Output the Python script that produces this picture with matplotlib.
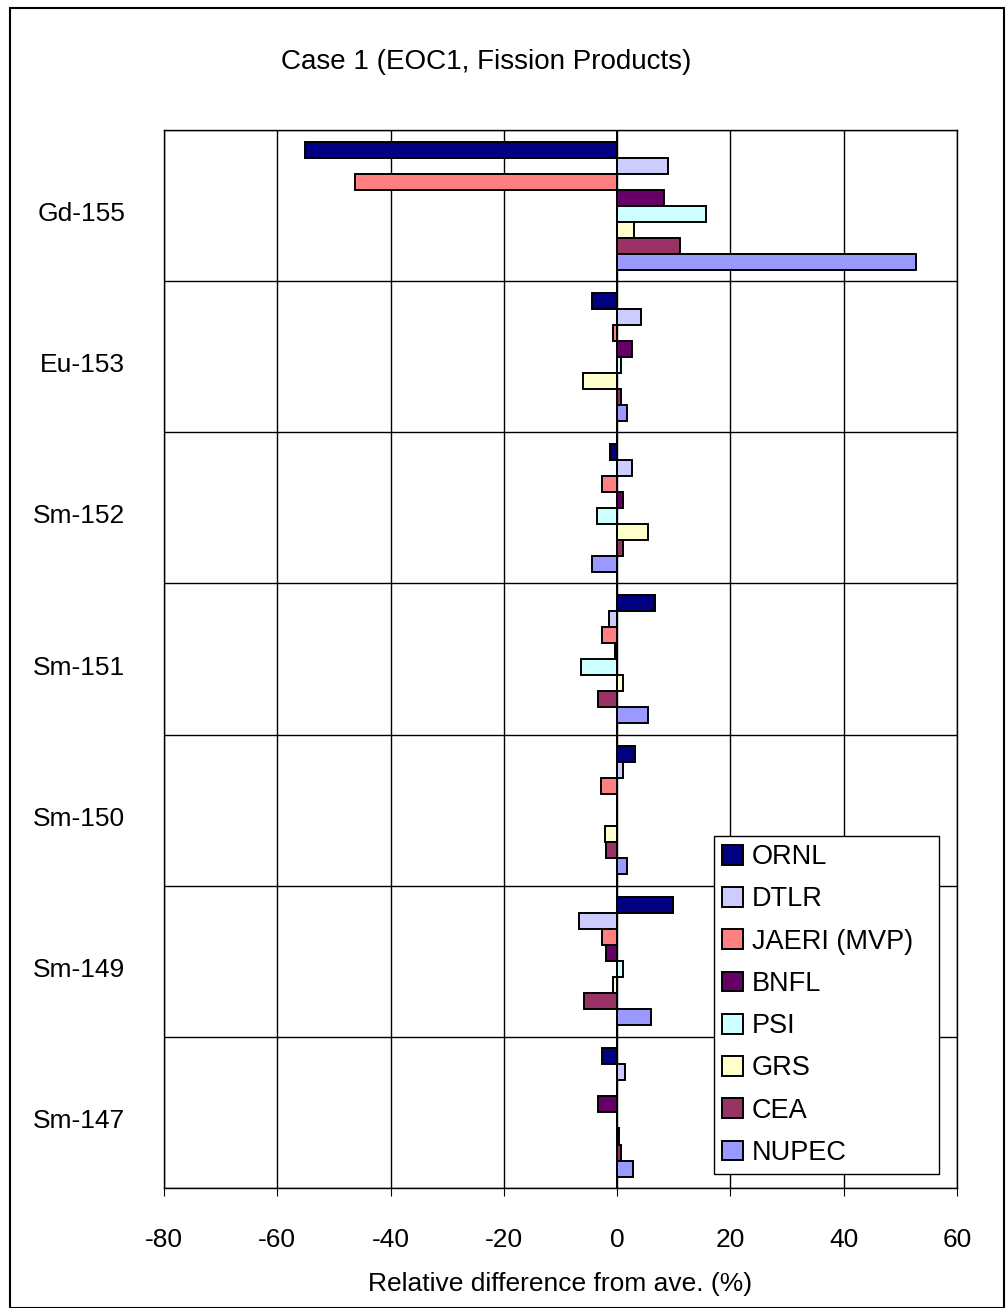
import matplotlib.pyplot as plt
import matplotlib.patches as patches
import numpy as np
from matplotlib import font_manager

names = [f.name for f in font_manager.fontManager.ttflist]
fam = 'Liberation Sans Narrow' if 'Liberation Sans Narrow' in names else 'Liberation Sans'
plt.rcParams['font.family'] = [fam, 'DejaVu Sans']
plt.rcParams['axes.unicode_minus'] = False

nuclides = ["Gd-155", "Eu-153", "Sm-152", "Sm-151", "Sm-150", "Sm-149", "Sm-147"]
labs = ["ORNL", "DTLR", "JAERI (MVP)", "BNFL", "PSI", "GRS", "CEA", "NUPEC"]
colors = ["#000080", "#CCCCFF", "#FF8080", "#660066", "#CCFFFF", "#FFFFCC", "#993366", "#9999FF"]

ornl = [-55.1, -4.4, -1.2, 6.7, 3.1, 9.9, -2.6]
dtlr = [9.0, 4.2, 2.7, -1.5, 1.0, -6.8, 1.4]
jaeri = [-46.3, -0.8, -2.6, -2.6, -2.9, -2.6, 0.0]
bnfl = [8.3, 2.7, 1.0, -0.4, 0.0, -1.9, -3.3]
psi = [15.7, 0.65, -3.6, -6.4, 0.0, 1.0, 0.0]
grs = [3.0, -6.1, 5.5, 1.0, -2.2, -0.8, 0.3]
cea = [11.1, 0.6, 1.0, -3.3, -1.9, -5.8, 0.6]
nupec = [52.8, 1.65, -4.4, 5.5, 1.65, 5.9, 2.8]
series = [ornl, dtlr, jaeri, bnfl, psi, grs, cea, nupec]

fig = plt.figure(figsize=(10.07, 13.08), dpi=100)
ax = fig.add_axes([0.1629, 0.0917, 0.7875, 0.8089])

y = np.arange(len(nuclides))
h = 16 / 151
for j, vals in enumerate(series):
    ax.barh(y + (j - 3.5) * h, vals, height=h, color=colors[j],
            edgecolor="black", linewidth=1.4, label=labs[j], zorder=3)

ax.axvline(0, color="black", linewidth=1.4, zorder=4)
ax.set_xlim(-80, 60)
ax.set_ylim(len(nuclides) - 0.5, -0.5)
ax.set_xticks(np.arange(-80, 61, 20))
# labels sit a little below the group centre in the original
ax.set_yticks(y + 0.04)
ax.set_yticklabels(nuclides, fontsize=19)
ax.set_yticks(np.arange(-0.5, len(nuclides), 1), minor=True)
ax.tick_params(axis="y", which="both", length=0, pad=28)
ax.tick_params(axis="x", labelsize=19, length=6, direction="out", pad=23)
ax.grid(axis="x", which="major", color="black", linewidth=1, zorder=0)
ax.grid(axis="y", which="minor", color="black", linewidth=1, zorder=0)
for s in ax.spines.values():
    s.set_linewidth(1)
ax.set_xlabel("Relative difference from ave. (%)", fontsize=19, labelpad=14)

leg = ax.legend(loc="lower left", bbox_to_anchor=(0.6936, 0.0132, 0.2837, 0.3185),
                mode="expand", fontsize=19.5,
                frameon=True, fancybox=False, edgecolor="black", framealpha=1,
                handlelength=0.75, handleheight=0.75, handletextpad=0.35,
                labelspacing=0.6, borderpad=0.3, borderaxespad=0)
leg.get_frame().set_linewidth(1)

fig.text(486 / 1007, 1 - 62 / 1308, "Case 1 (EOC1, Fission Products)",
         ha="center", va="center", fontsize=20)

fig.patches.append(patches.Rectangle((10 / 1007, 0.0), 994 / 1007, 1 - 8 / 1308,
                                     transform=fig.transFigure, fill=False,
                                     edgecolor="black", linewidth=1.5))

fig.savefig("out.png", dpi=100)
